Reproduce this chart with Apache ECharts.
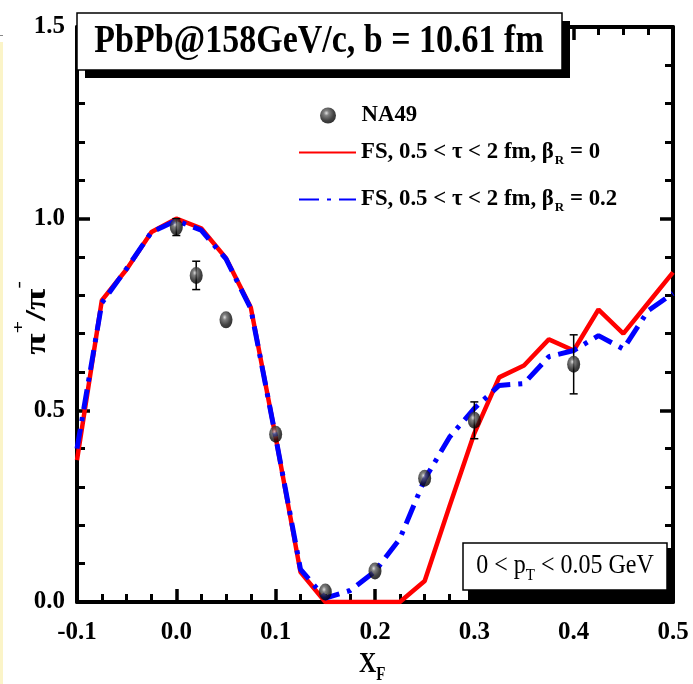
<!DOCTYPE html>
<html>
<head>
<meta charset="utf-8">
<script src="https://cdn.jsdelivr.net/npm/echarts@6/dist/echarts.min.js"></script>
<style>
html,body{margin:0;padding:0;background:#fff;}
#chart{width:693px;height:684px;}
</style>
</head>
<body>
<div id="chart"></div>
<script>
// ---- data ----
const modelX = [-0.1, -0.075, -0.05, -0.025, 0.0, 0.025, 0.05, 0.075, 0.1, 0.125, 0.15, 0.175, 0.2, 0.225, 0.25, 0.275, 0.3, 0.325, 0.35, 0.375, 0.4, 0.425, 0.45, 0.475, 0.5];
const fsBeta0 = [0.37, 0.787, 0.868, 0.965, 1.0, 0.975, 0.897, 0.768, 0.43, 0.078, 0.0, 0.0, 0.0, 0.0, 0.055, 0.25, 0.44, 0.586, 0.617, 0.685, 0.656, 0.763, 0.70, 0.78, 0.86];
const fsBeta02 = [0.40, 0.78, 0.87, 0.965, 0.995, 0.97, 0.895, 0.765, 0.43, 0.085, 0.01, 0.03, 0.08, 0.165, 0.32, 0.43, 0.505, 0.565, 0.57, 0.64, 0.656, 0.695, 0.66, 0.76, 0.805];
const na49X = [0.0, 0.02, 0.05, 0.1, 0.15, 0.2, 0.25, 0.3, 0.4];
const na49Y = [0.978, 0.852, 0.736, 0.4375, 0.026, 0.081, 0.323, 0.474, 0.62];
const na49Err = [0.022, 0.037, 0, 0, 0, 0, 0, 0.048, 0.077];
const xTicks = [-0.1, 0.0, 0.1, 0.2, 0.3, 0.4, 0.5];
const yTicks = [0.0, 0.5, 1.0, 1.5];

const SERIF = '"Liberation Serif", "Times New Roman", serif';

const chart = echarts.init(document.getElementById('chart'), null, {renderer: 'canvas'});

const pair = (xs, ys) => xs.map((x, i) => [x, ys[i]]);
const errData = na49X.map((x, i) => [x, na49Y[i], na49Err[i]]);

const legendLabels = {
  'NA49': '{t|NA49}',
  'FS0': '{t|FS, 0.5 < τ < 2 fm, β}{s|R}{t| = 0}',
  'FS02': '{t|FS, 0.5 < τ < 2 fm, β}{s|R}{t| = 0.2}'
};
const legendRich = {
  t: {fontFamily: SERIF, fontWeight: 'bold', fontSize: 22.8, color: '#000'},
  s: {fontFamily: SERIF, fontWeight: 'bold', fontSize: 13, color: '#000', padding: [16, 0, 0, 1]}
};
function mkLegend(item, left, top, hideSymbol) {
  const l = {
    data: [item], left: left, top: top, orient: 'vertical', padding: 0,
    itemWidth: 57, itemHeight: 16, itemGap: 5,
    formatter: n => legendLabels[n],
    textStyle: {rich: legendRich}
  };
  if (hideSymbol) l.itemStyle = {color: 'rgba(0,0,0,0)', borderColor: 'rgba(0,0,0,0)', borderWidth: 0};
  return l;
}

function mkAxis(extra, split) {
  return Object.assign({
    type: 'value',
    axisLine: {show: true, onZero: false, lineStyle: {color: '#000', width: 4}},
    axisTick: {show: true, inside: true, length: 13, lineStyle: {color: '#000', width: 3.5}},
    minorTick: {show: true, splitNumber: split, length: 8, lineStyle: {color: '#000', width: 3}},
    splitLine: {show: false},
    minorSplitLine: {show: false}
  }, extra);
}
const labelStyle = {fontFamily: SERIF, fontWeight: 'bold', fontSize: 25, color: '#000',
  showMinLabel: true, showMaxLabel: true, formatter: v => v.toFixed(1)};

const option = {
  backgroundColor: '#fff',
  animation: false,
  grid: {left: 77, right: 20, top: 27, bottom: 82},
  xAxis: [
    mkAxis({min: xTicks[0], max: xTicks[xTicks.length - 1], interval: 0.1, position: 'bottom',
      axisLabel: Object.assign({show: true, margin: 18}, labelStyle)}, 4),
    mkAxis({min: xTicks[0], max: xTicks[xTicks.length - 1], interval: 0.1, position: 'top',
      axisLabel: {show: false}}, 4)
  ],
  yAxis: [
    mkAxis({min: yTicks[0], max: yTicks[yTicks.length - 1], interval: 0.5, position: 'left',
      axisLabel: Object.assign({show: true, margin: 12}, labelStyle)}, 5),
    mkAxis({min: yTicks[0], max: yTicks[yTicks.length - 1], interval: 0.5, position: 'right',
      axisLabel: {show: false}}, 5)
  ],
  legend: [
    mkLegend({name: 'NA49', icon: 'circle'}, 320, 104, false),
    mkLegend('FS0', 298, 141, true),
    mkLegend('FS02', 298, 188, true)
  ],
  series: [
    {
      name: 'FS0', type: 'line', data: pair(modelX, fsBeta0),
      symbol: 'none', z: 3, clip: true,
      lineStyle: {color: '#ff0000', width: 4.5},
      itemStyle: {color: '#ff0000'}
    },
    {
      name: 'FS02', type: 'line', data: pair(modelX, fsBeta02),
      symbol: 'none', z: 4, clip: true,
      lineStyle: {color: '#0000ff', width: 5, type: [20, 8, 4, 8]},
      itemStyle: {color: '#0000ff'}
    },
    {
      name: 'errbars', type: 'custom', data: errData, z: 5,
      encode: {x: 0, y: 1},
      renderItem: function (params, api) {
        const x = api.value(0), y = api.value(1), e = api.value(2);
        if (!e) return null;
        const t = api.coord([x, y + e]);
        const b = api.coord([x, y - e]);
        const hw = 4;
        const st = {stroke: '#000', lineWidth: 1.5};
        return {type: 'group', children: [
          {type: 'line', shape: {x1: t[0], y1: t[1], x2: b[0], y2: b[1]}, style: st},
          {type: 'line', shape: {x1: t[0] - hw, y1: t[1], x2: t[0] + hw, y2: t[1]}, style: st},
          {type: 'line', shape: {x1: b[0] - hw, y1: b[1], x2: b[0] + hw, y2: b[1]}, style: st}
        ]};
      }
    },
    {
      name: 'NA49', type: 'scatter', data: pair(na49X, na49Y), z: 6,
      symbol: 'circle', symbolSize: [13, 17],
      itemStyle: {
        color: {type: 'radial', x: 0.4, y: 0.35, r: 0.65, colorStops: [
          {offset: 0, color: '#d8d8d8'}, {offset: 0.25, color: '#606060'}, {offset: 0.7, color: '#151515'}, {offset: 1, color: '#000'}
        ]}
      }
    }
  ],
  graphic: [
    {type: 'rect', z: 100, shape: {x: 0, y: 42, width: 3, height: 642}, style: {fill: '#fbf4c8'}},
    {type: 'rect', z: 100, shape: {x: 0, y: 35, width: 3, height: 1}, style: {fill: '#888'}},
    // title box
    {type: 'rect', z: 100, shape: {x: 85, y: 21, width: 485, height: 57}, style: {fill: '#000'}},
    {type: 'rect', z: 101, shape: {x: 77, y: 13, width: 485, height: 57}, style: {fill: '#fff', stroke: '#000', lineWidth: 1.5}},
    {type: 'text', z: 102, x: 319, y: 42, scaleY: 1.18,
      style: {text: 'PbPb@158GeV/c, b = 10.61 fm', x: 0, y: 0, align: 'center', verticalAlign: 'middle',
        font: 'bold 34px ' + SERIF, fill: '#000'}},
    // pT box
    {type: 'rect', z: 100, shape: {x: 468, y: 548, width: 205, height: 54}, style: {fill: '#000'}},
    {type: 'rect', z: 101, shape: {x: 463, y: 543, width: 204, height: 47}, style: {fill: '#fff', stroke: '#000', lineWidth: 1.5}},
    {type: 'text', z: 102, x: 565, y: 566, scaleY: 1.15,
      style: {text: '{a|0 < p}{b|T}{a| < 0.05 GeV}', x: 0, y: 0, align: 'center', verticalAlign: 'middle',
        rich: {
          a: {fontFamily: SERIF, fontSize: 24, color: '#000'},
          b: {fontFamily: SERIF, fontSize: 15, color: '#000', padding: [16, 0, 0, 0]}
        }}},
    // x axis name
    {type: 'text', z: 102, x: 359, y: 665, scaleY: 1.2,
      style: {text: '{a|X}{b|F}', x: 0, y: 0, align: 'left', verticalAlign: 'middle',
        rich: {
          a: {fontFamily: SERIF, fontWeight: 'bold', fontSize: 24, color: '#000'},
          b: {fontFamily: SERIF, fontWeight: 'bold', fontSize: 15, color: '#000', padding: [18, 0, 0, 0]}
        }}},
    // y axis name
    {type: 'text', z: 102, x: 37, y: 318, rotation: Math.PI / 2, scaleX: 1.3,
      style: {text: '{a|π}{p|+}{a|/π}{p|-}', x: 0, y: 0, align: 'center', verticalAlign: 'middle',
        rich: {
          a: {fontFamily: SERIF, fontWeight: 'bold', fontSize: 30, color: '#000'},
          p: {fontFamily: SERIF, fontWeight: 'bold', fontSize: 17, color: '#000', padding: [0, 0, 34, 0]}
        }}}
  ]
};
chart.setOption(option);
</script>
</body>
</html>
